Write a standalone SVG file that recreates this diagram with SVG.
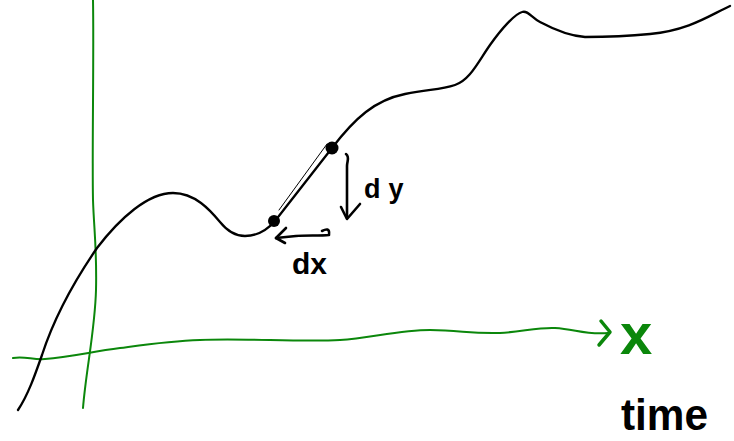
<svg xmlns="http://www.w3.org/2000/svg" width="734" height="441" viewBox="0 0 734 441">
  <defs>
    <style>
      .curve { fill: none; stroke: #000; stroke-width: 2.3; stroke-linecap: round; stroke-linejoin: round; }
      .thin { fill: none; stroke: #000; stroke-width: 1; stroke-linecap: round; }
      .axis { fill: none; stroke: #0b870b; stroke-width: 2; stroke-linecap: round; stroke-linejoin: round; }
      .axishead { fill: none; stroke: #0b870b; stroke-width: 3.5; stroke-linecap: round; stroke-linejoin: round; }
      .arrow { fill: none; stroke: #000; stroke-width: 2.6; stroke-linecap: round; stroke-linejoin: round; }
      .hand { font-family: "Liberation Sans", Arial, sans-serif; fill: #000; font-weight: bold; }
      .dot { fill: #000; }
    </style>
  </defs>
  <rect width="734" height="441" fill="#fff"/>

  <g id="axes">
    <path id="y-axis" class="axis" d="M 93,0 C 94,60 92,150 93,200 C 94,230 97,250 96,290 C 95,330 86,370 83,408"/>
    <path id="x-axis" class="axis" stroke-width="2.5" d="M 13,358 C 25,356 33,360 45,359 C 70,357 90,352 120,348 C 150,344 170,341 200,340 C 240,338 300,342 340,340 C 370,338 400,330 430,330 C 460,330 470,334 500,333 C 520,332 540,327 555,328 C 575,329 585,335 608,333"/>
    <path class="axishead" d="M 601,321 L 610,332 L 599,345"/>
    <text id="x-label" class="hand" x="620" y="354" font-size="58" style="fill:#0b870b">x</text>
  </g>

  <g id="curve">
    <path class="curve" d="M 18,410 C 28,395 35,375 42,355 C 55,315 75,280 97,248 C 120,218 148,193 173,193 C 195,193 210,210 220,222 C 228,232 236,236 245,236 C 258,236 268,229 275,221 L 332,148 C 355,118 375,100 405,94 C 430,89 440,90 455,85 C 470,80 478,62 490,45 C 502,28 515,14 522,12 C 528,10 532,18 540,22 C 555,30 570,36 585,37 C 610,37 630,36 650,34 C 690,30 710,15 730,6"/>
    <path class="thin" d="M 279,210 L 327,144"/>
  </g>

  <g id="point-a">
    <circle class="dot" cx="274" cy="221" r="6"/>
  </g>
  <g id="point-b">
    <circle class="dot" cx="332" cy="148" r="6.5"/>
  </g>

  <g id="connectors">
    <path id="dy-arrow" class="arrow" d="M 346,154 C 350,157 347,161 347,166 L 347,218"/>
    <path class="arrow" d="M 341,207 L 347,219 L 360,204"/>
    <path id="dx-arrow" class="arrow" d="M 322,231 C 326,229 330,228 329,235 C 320,236 305,235 296,236 L 276,238"/>
    <path class="arrow" d="M 286,228 L 276,238 L 285,243"/>
  </g>

  <g id="labels">
    <text class="hand" x="364" y="198" font-size="27" letter-spacing="8" font-weight="normal">dy</text>
    <text class="hand" x="292" y="274" font-size="30">dx</text>
    <text class="hand" x="621" y="430" font-size="44" textLength="87" lengthAdjust="spacingAndGlyphs">time</text>
  </g>
</svg>
